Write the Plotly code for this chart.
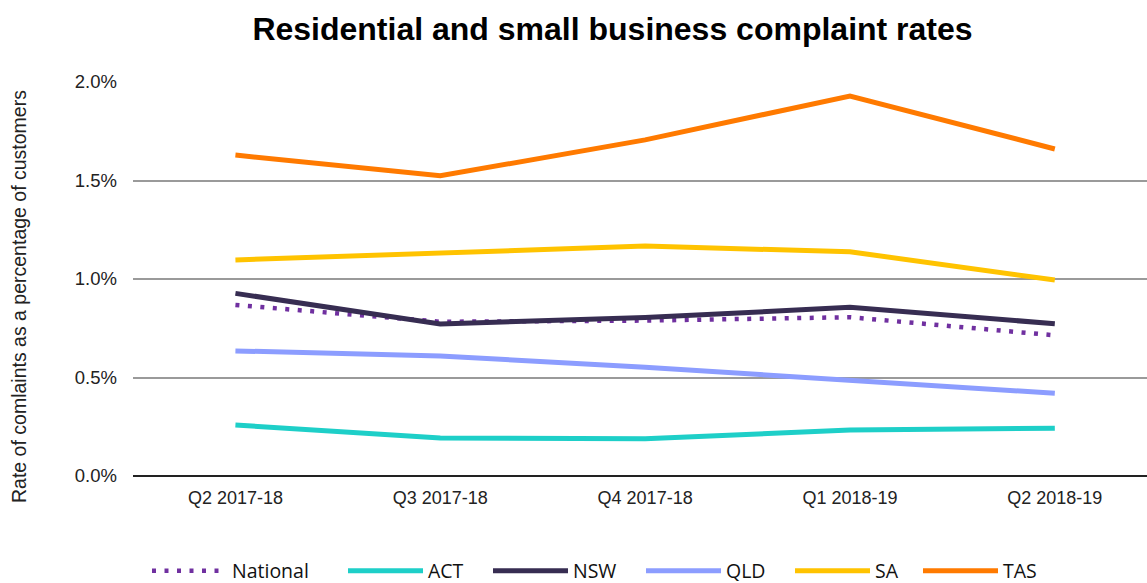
import plotly.graph_objects as go

quarters = ["Q2 2017-18", "Q3 2017-18", "Q4 2017-18", "Q1 2018-19", "Q2 2018-19"]

national = [0.868, 0.783, 0.789, 0.806, 0.714]
act = [0.259, 0.193, 0.189, 0.233, 0.243]
nsw = [0.927, 0.772, 0.804, 0.856, 0.773]
qld = [0.635, 0.609, 0.552, 0.488, 0.420]
sa = [1.097, 1.133, 1.167, 1.138, 0.995]
tas = [1.629, 1.524, 1.706, 1.929, 1.660]

series = [
    ("National", national, "#7030A0", "4px,8.5px"),
    ("ACT", act, "#1ECFC8", "solid"),
    ("NSW", nsw, "#372D52", "solid"),
    ("QLD", qld, "#8C9DFF", "solid"),
    ("SA", sa, "#FFC300", "solid"),
    ("TAS", tas, "#FF7A00", "solid"),
]

W, H = 1147, 583
L, R, T, B = 133, 0, 82, 107
plot_w = W - L - R
plot_h = H - T - B

# left edge (px) of each legend entry along the bottom row
legend_left = [147, 343, 488, 641, 790, 918]
legend_row_y = 571

fig = go.Figure()
legend_layouts = {}
for i, (name, vals, color, dash) in enumerate(series):
    key = "legend" if i == 0 else f"legend{i + 1}"
    fig.add_trace(go.Scatter(
        x=quarters,
        y=[v / 100 for v in vals],
        name=name,
        mode="lines",
        legend=key,
        line=dict(color=color, width=5 if dash == "solid" else 4.5, dash=dash),
    ))
    legend_layouts[key] = dict(
        orientation="h",
        x=(legend_left[i] - L) / plot_w,
        xanchor="left",
        y=-(legend_row_y - (T + plot_h)) / plot_h,
        yanchor="middle",
        itemwidth=75,
        font=dict(family="Open Sans", size=19.5, color="#111111"),
        bgcolor="rgba(0,0,0,0)",
    )

fig.update_layout(
    width=W,
    height=H,
    margin=dict(l=L, r=R, t=T, b=B, autoexpand=False),
    paper_bgcolor="white",
    plot_bgcolor="white",
    title=dict(
        text="<b>Residential and small business complaint rates</b>",
        font=dict(family="Liberation Sans, Arial", size=32, color="#000000"),
        x=612.5 / W,
        xanchor="center",
        xref="container",
        y=1 - 29 / H,
        yanchor="middle",
        yref="container",
    ),
    xaxis=dict(
        range=[-0.5, 4.45],
        showgrid=False,
        showline=False,
        ticks="",
        tickfont=dict(family="Liberation Sans, Arial", size=18, color="#222222"),
        ticklabelstandoff=9,
        fixedrange=True,
    ),
    yaxis=dict(
        range=[0, 0.02],
        tickvals=[0, 0.005, 0.01, 0.015, 0.02],
        tickformat=".1%",
        showgrid=True,
        gridcolor="#9A9A9A",
        gridwidth=1.5,
        zeroline=True,
        zerolinecolor="#222222",
        zerolinewidth=1.5,
        showline=False,
        ticks="",
        ticklabelstandoff=15,
        tickfont=dict(family="Liberation Sans, Arial", size=18.5, color="#222222"),
        fixedrange=True,
    ),
    showlegend=True,
    annotations=[
        dict(
            text="Rate of comlaints as a percentage of customers",
            textangle=-90,
            xref="paper",
            yref="paper",
            x=(19 - L) / plot_w,
            y=1 - (297 - T) / plot_h,
            xanchor="center",
            yanchor="middle",
            showarrow=False,
            font=dict(family="Liberation Sans, Arial", size=19.5, color="#222222"),
        )
    ],
    **legend_layouts,
)

fig.write_html("out.html")
